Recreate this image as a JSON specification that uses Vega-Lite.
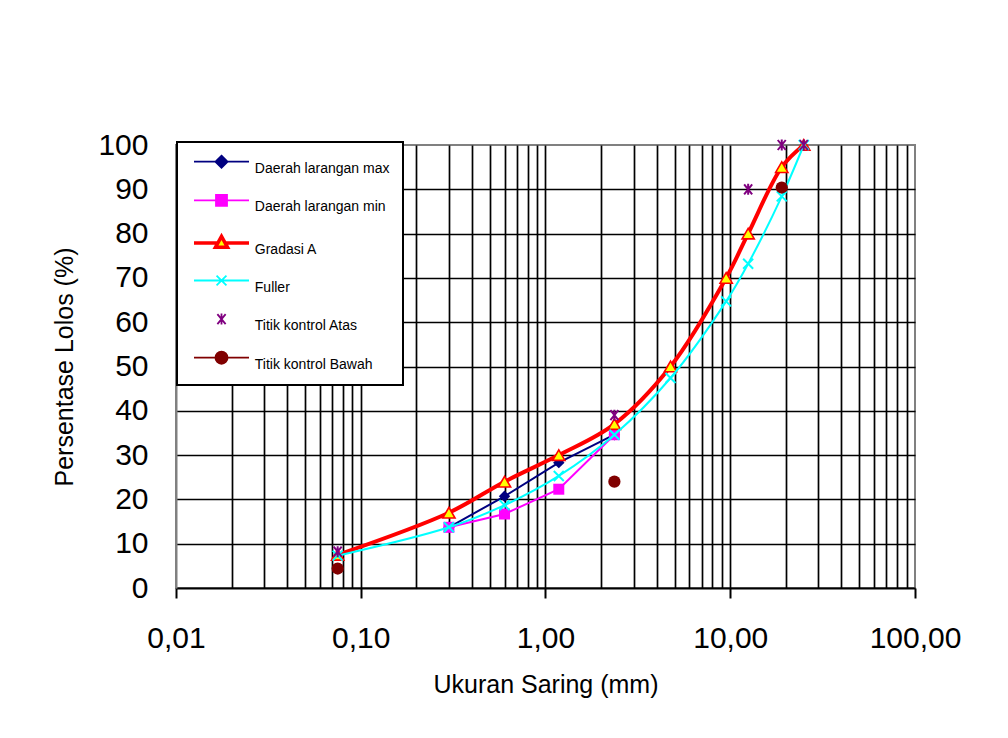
{
  "$schema": "https://vega.github.io/schema/vega-lite/v6.json",
  "width": 739,
  "height": 443,
  "autosize": {"type": "none"},
  "padding": {"left": 176, "top": 145, "right": 93, "bottom": 150},
  "background": "white",
  "config": {
    "font": "Liberation Sans",
    "view": {"stroke": "#808080", "strokeWidth": 2}
  },
  "data": {
    "values": [
      {"s": "Daerah larangan max", "d": 0.3, "p": 13.7},
      {"s": "Daerah larangan max", "d": 0.6, "p": 20.7},
      {"s": "Daerah larangan max", "d": 1.18, "p": 28.3},
      {"s": "Daerah larangan max", "d": 2.36, "p": 34.6},
      {"s": "Daerah larangan min", "d": 0.3, "p": 13.7},
      {"s": "Daerah larangan min", "d": 0.6, "p": 16.7},
      {"s": "Daerah larangan min", "d": 1.18, "p": 22.3},
      {"s": "Daerah larangan min", "d": 2.36, "p": 34.6},
      {"s": "Gradasi A", "d": 0.075, "p": 7.5},
      {"s": "Gradasi A", "d": 0.3, "p": 17},
      {"s": "Gradasi A", "d": 0.6, "p": 24},
      {"s": "Gradasi A", "d": 1.18, "p": 30},
      {"s": "Gradasi A", "d": 2.36, "p": 37},
      {"s": "Gradasi A", "d": 4.75, "p": 50},
      {"s": "Gradasi A", "d": 9.5, "p": 70},
      {"s": "Gradasi A", "d": 12.5, "p": 80},
      {"s": "Gradasi A", "d": 19, "p": 95},
      {"s": "Gradasi A", "d": 25, "p": 100},
      {"s": "Fuller", "d": 0.075, "p": 7.3},
      {"s": "Fuller", "d": 0.3, "p": 13.7},
      {"s": "Fuller", "d": 0.6, "p": 18.7},
      {"s": "Fuller", "d": 1.18, "p": 25.3},
      {"s": "Fuller", "d": 2.36, "p": 34.6},
      {"s": "Fuller", "d": 4.75, "p": 47.4},
      {"s": "Fuller", "d": 9.5, "p": 64.7},
      {"s": "Fuller", "d": 12.5, "p": 73.2},
      {"s": "Fuller", "d": 19, "p": 88.4},
      {"s": "Fuller", "d": 25, "p": 100},
      {"s": "Titik kontrol Atas", "d": 0.075, "p": 8.2},
      {"s": "Titik kontrol Atas", "d": 2.36, "p": 39},
      {"s": "Titik kontrol Atas", "d": 12.5, "p": 90},
      {"s": "Titik kontrol Atas", "d": 19, "p": 100},
      {"s": "Titik kontrol Atas", "d": 25, "p": 100},
      {"s": "Titik kontrol Bawah", "d": 0.075, "p": 4.4},
      {"s": "Titik kontrol Bawah", "d": 2.36, "p": 24},
      {"s": "Titik kontrol Bawah", "d": 19, "p": 90.4}
    ]
  },
  "encoding": {
    "x": {
      "field": "d",
      "type": "quantitative",
      "scale": {"type": "log", "domain": [0.01, 100], "nice": false},
      "axis": {
        "title": "Ukuran Saring (mm)",
        "titleFont": "Liberation Sans",
        "titleFontSize": 25,
        "titleFontWeight": "normal",
        "titleColor": "black",
        "titlePadding": 19,
        "values": [0.01, 0.02, 0.03, 0.04, 0.05, 0.06, 0.07, 0.08, 0.09, 0.1, 0.2, 0.3, 0.4, 0.5, 0.6, 0.7, 0.8, 0.9, 1, 2, 3, 4, 5, 6, 7, 8, 9, 10, 20, 30, 40, 50, 60, 70, 80, 90, 100],
        "labelExpr": "indexof([0.01, 0.1, 1, 10, 100], datum.value) >= 0 ? replace(format(datum.value, '.2f'), '.', ',') : ''",
        "labelFont": "Liberation Sans",
        "labelFontSize": 30,
        "labelColor": "black",
        "labelPadding": 25,
        "labelFlush": false,
        "labelOverlap": false,
        "labelBound": false,
        "tickSize": 10,
        "tickWidth": 2,
        "tickColor": "black",
        "tickOpacity": {"condition": {"test": "indexof([0.01, 0.1, 1, 10, 100], datum.value) >= 0", "value": 1}, "value": 0},
        "domainColor": "black",
        "domainWidth": 2,
        "grid": true,
        "gridColor": "black",
        "gridWidth": 1.7,
        "gridOpacity": {"condition": {"test": "datum.value <= 0.0101 || datum.value >= 99", "value": 0}, "value": 1}
      }
    },
    "y": {
      "field": "p",
      "type": "quantitative",
      "scale": {"domain": [0, 100], "nice": false, "zero": false},
      "axis": {
        "title": "Persentase Lolos (%)",
        "titleFont": "Liberation Sans",
        "titleFontSize": 25,
        "titleFontWeight": "normal",
        "titleColor": "black",
        "titlePadding": 20,
        "values": [0, 10, 20, 30, 40, 50, 60, 70, 80, 90, 100],
        "labelFont": "Liberation Sans",
        "labelFontSize": 30,
        "labelColor": "black",
        "labelPadding": 28,
        "labelOverlap": false,
        "labelBound": false,
        "labelFlush": false,
        "ticks": false,
        "domainColor": "#808080",
        "domainWidth": 2,
        "grid": true,
        "gridColor": "black",
        "gridWidth": 1.7,
        "gridOpacity": {"condition": {"test": "datum.value <= 0 || datum.value >= 100", "value": 0}, "value": 1}
      }
    }
  },
  "layer": [
    {
      "transform": [{"filter": "datum.s === 'Daerah larangan max'"}],
      "mark": {"type": "line", "color": "#000080", "strokeWidth": 2}
    },
    {
      "transform": [{"filter": "datum.s === 'Daerah larangan max'"}],
      "mark": {"type": "point", "shape": "diamond", "filled": true, "color": "#000080", "opacity": 1, "size": 130}
    },
    {
      "transform": [{"filter": "datum.s === 'Daerah larangan min'"}],
      "mark": {"type": "line", "color": "#ff00ff", "strokeWidth": 2}
    },
    {
      "transform": [{"filter": "datum.s === 'Daerah larangan min'"}],
      "mark": {"type": "point", "shape": "square", "filled": true, "color": "#ff00ff", "opacity": 1, "size": 121}
    },
    {
      "transform": [{"filter": "datum.s === 'Gradasi A'"}],
      "mark": {"type": "line", "color": "#ff0000", "strokeWidth": 4, "interpolate": "catmull-rom"}
    },
    {
      "transform": [{"filter": "datum.s === 'Gradasi A'"}],
      "mark": {"type": "point", "shape": "triangle-up", "filled": true, "fill": "#ffff00", "stroke": "#ff0000", "strokeWidth": 1.6, "opacity": 1, "size": 150}
    },
    {
      "transform": [{"filter": "datum.s === 'Fuller'"}],
      "mark": {"type": "line", "color": "#00ffff", "strokeWidth": 2, "interpolate": "catmull-rom"}
    },
    {
      "transform": [{"filter": "datum.s === 'Fuller'"}],
      "mark": {"type": "point", "shape": "M-1,-1L1,1M-1,1L1,-1", "filled": false, "color": "#00ffff", "strokeWidth": 2, "opacity": 1, "size": 100}
    },
    {
      "transform": [{"filter": "datum.s === 'Titik kontrol Atas'"}],
      "mark": {"type": "point", "shape": "M-0.8,-1L0.8,1M-0.8,1L0.8,-1M0,-1.1V1.1", "filled": false, "color": "#800080", "strokeWidth": 2, "opacity": 1, "size": 100}
    },
    {
      "transform": [{"filter": "datum.s === 'Titik kontrol Bawah'"}],
      "mark": {"type": "point", "shape": "circle", "filled": true, "color": "#800000", "opacity": 1, "size": 150}
    },
    {
      "mark": {"type": "point", "opacity": 0, "filled": true},
      "encoding": {
        "shape": {
          "field": "s",
          "type": "nominal",
          "scale": {
            "domain": ["Daerah larangan max", "Daerah larangan min", "Gradasi A", "Fuller", "Titik kontrol Atas", "Titik kontrol Bawah"],
            "range": [
              "M-1,0H1M0,-0.22L0.22,0L0,0.22L-0.22,0Z",
              "M-1,0H1M-0.2,-0.2H0.2V0.2H-0.2Z",
              "M-1,0H-0.15M0.15,0H1M0,-0.24L0.22,0.16L-0.22,0.16Z",
              "M-1,0H1M-0.18,-0.18L0.18,0.18M-0.18,0.18L0.18,-0.18",
              "M-0.15,-0.18L0.15,0.18M-0.15,0.18L0.15,-0.18M0,-0.2V0.2",
              "M-1,0H1M-0.22,0A0.22,0.22,0,1,0,0.22,0A0.22,0.22,0,1,0,-0.22,0Z"
            ]
          },
          "legend": {
            "title": null,
            "orient": "none",
            "legendX": 1,
            "legendY": -3,
            "padding": 12.7,
            "symbolSize": 3025,
            "symbolOffset": 24.8,
            "labelOffset": 26.3,
            "labelFont": "Liberation Sans",
            "labelFontSize": 14,
            "labelColor": "black",
            "rowPadding": 14.6,
            "strokeColor": "black",
            "fillColor": "white",
            "symbolOpacity": 1,
            "encode": {
              "legend": {"update": {"strokeWidth": {"value": 2}}},
              "symbols": {"update": {"opacity": {"value": 1}, "strokeWidth": {"signal": "datum.value === 'Gradasi A' ? 3.5 : 1.8"}}},
              "labels": {"update": {"dy": {"value": 7}}}
            }
          }
        },
        "fill": {
          "field": "s",
          "type": "nominal",
          "scale": {
            "domain": ["Daerah larangan max", "Daerah larangan min", "Gradasi A", "Fuller", "Titik kontrol Atas", "Titik kontrol Bawah"],
            "range": ["#000080", "#ff00ff", "#ffff00", "transparent", "transparent", "#800000"]
          },
          "legend": {
            "title": null,
            "orient": "none",
            "legendX": 1,
            "legendY": -3,
            "padding": 12.7,
            "symbolSize": 3025,
            "symbolOffset": 24.8,
            "labelOffset": 26.3,
            "labelFont": "Liberation Sans",
            "labelFontSize": 14,
            "labelColor": "black",
            "rowPadding": 14.6,
            "strokeColor": "black",
            "fillColor": "white",
            "symbolOpacity": 1,
            "encode": {
              "legend": {"update": {"strokeWidth": {"value": 2}}},
              "symbols": {"update": {"opacity": {"value": 1}, "strokeWidth": {"signal": "datum.value === 'Gradasi A' ? 3.5 : 1.8"}}},
              "labels": {"update": {"dy": {"value": 7}}}
            }
          }
        },
        "stroke": {
          "field": "s",
          "type": "nominal",
          "scale": {
            "domain": ["Daerah larangan max", "Daerah larangan min", "Gradasi A", "Fuller", "Titik kontrol Atas", "Titik kontrol Bawah"],
            "range": ["#000080", "#ff00ff", "#ff0000", "#00ffff", "#800080", "#800000"]
          },
          "legend": {
            "title": null,
            "orient": "none",
            "legendX": 1,
            "legendY": -3,
            "padding": 12.7,
            "symbolSize": 3025,
            "symbolOffset": 24.8,
            "labelOffset": 26.3,
            "labelFont": "Liberation Sans",
            "labelFontSize": 14,
            "labelColor": "black",
            "rowPadding": 14.6,
            "strokeColor": "black",
            "fillColor": "white",
            "symbolOpacity": 1,
            "encode": {
              "legend": {"update": {"strokeWidth": {"value": 2}}},
              "symbols": {"update": {"opacity": {"value": 1}, "strokeWidth": {"signal": "datum.value === 'Gradasi A' ? 3.5 : 1.8"}}},
              "labels": {"update": {"dy": {"value": 7}}}
            }
          }
        }
      }
    }
  ]
}
